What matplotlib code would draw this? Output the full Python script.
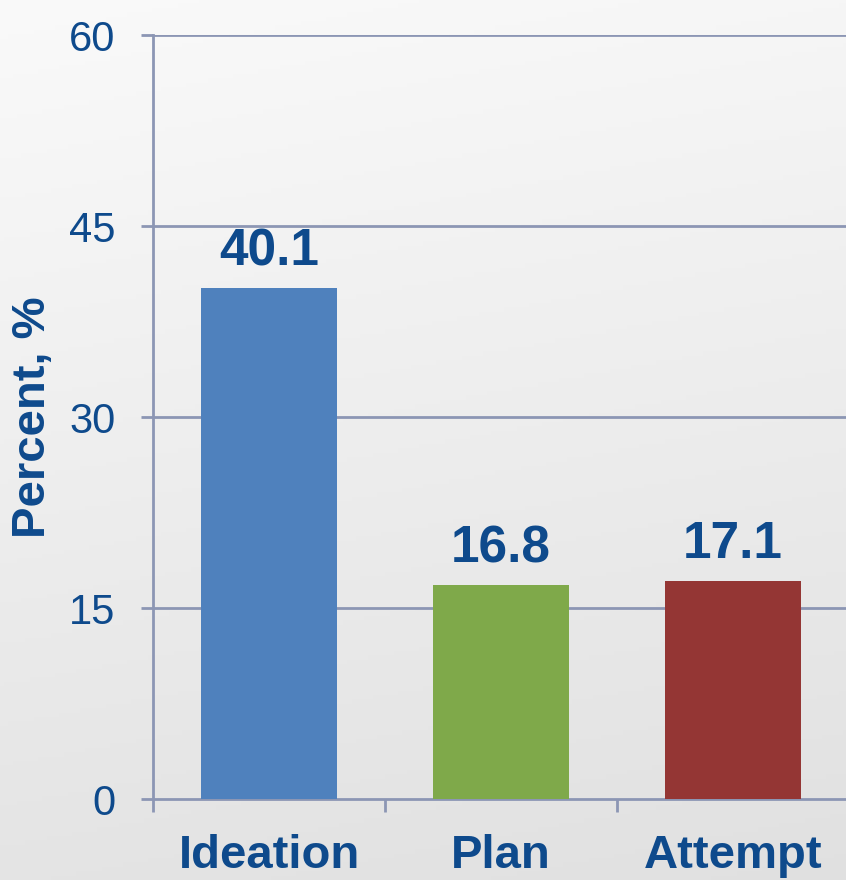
import matplotlib
matplotlib.use("Agg")
import matplotlib.pyplot as plt
import numpy as np

categories = ["Ideation", "Plan", "Attempt"]
values = [40.1, 16.8, 17.1]
bar_colors = ["#4F81BD", "#7FA94A", "#943634"]
yticks = [0, 15, 30, 45, 60]

text_color = "#0E4A8C"
grid_color = "#8C96B4"

plt.rcParams['font.family'] = ['Liberation Sans', 'DejaVu Sans']

fig = plt.figure(figsize=(8.46, 8.8), dpi=100)

# background gradient
bg = fig.add_axes([0, 0, 1, 1], zorder=-10)
yy, xx = np.mgrid[0:1:200j, 0:1:200j]
g = 0.98 - 0.10 * (0.85 * yy + 0.15 * xx)
bg.imshow(np.dstack([g, g, g]), aspect='auto', extent=[0, 1, 0, 1], origin='upper')
bg.set_axis_off()

left = 153 / 846
right_px = 849
bottom = (880 - 799) / 880
top = (880 - 35) / 880
ax = fig.add_axes([left, bottom, (right_px - 153) / 846, top - bottom])
ax.set_facecolor('none')

x = np.arange(len(categories)) + 0.5
bars = ax.bar(x, values, width=0.59, color=bar_colors, zorder=3)
for xi, v in zip(x, values):
    ax.annotate(f"{v}", (xi, v), xytext=(0, 16.5), textcoords='offset points',
                ha='center', va='baseline', fontsize=37, fontweight='bold', color=text_color)

ax.set_xlim(0, 3)
ax.set_ylim(0, 60)
ax.set_yticks(yticks)
ax.set_yticklabels([str(t) for t in yticks], fontsize=30, color=text_color)
ax.set_xticks([0, 1, 2, 3])
ax.set_xticklabels([])
ax.set_xticks(x, minor=True)
ax.set_xticklabels(categories, minor=True, fontsize=34, fontweight='bold', color=text_color)
ax.tick_params(axis='x', which='minor', length=0, pad=25)
ax.tick_params(axis='x', which='major', length=9, width=2, color=grid_color, direction='out')
ax.tick_params(axis='y', length=9, width=2, color=grid_color, pad=18)

for t in yticks[1:]:
    ax.axhline(t, color=grid_color, lw=2, zorder=1)
for s in ['top', 'right']:
    ax.spines[s].set_visible(False)
for s in ['left', 'bottom']:
    ax.spines[s].set_color(grid_color)
    ax.spines[s].set_linewidth(2)

ax.set_ylabel("Percent, %", fontsize=34, fontweight='bold', color=text_color, va='center')
ax.yaxis.set_label_coords((33 - 153) / 696, 0.5)

fig.savefig("out.png", dpi=100)
